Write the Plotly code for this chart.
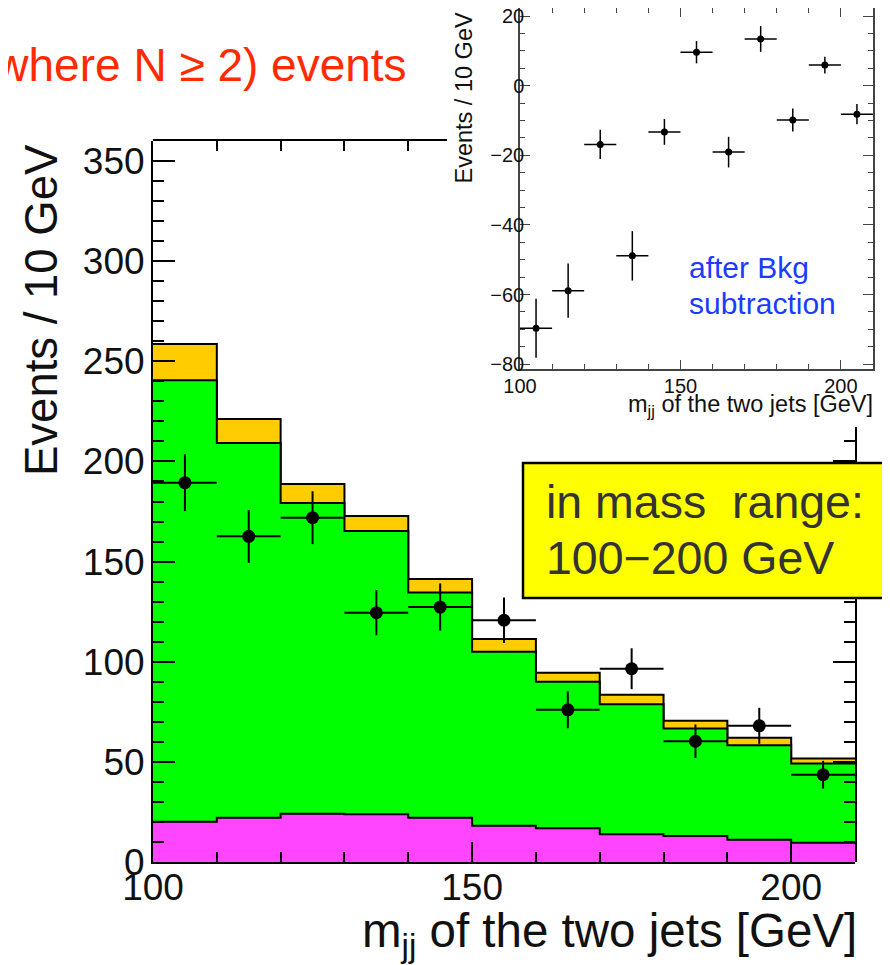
import plotly.graph_objects as go

# ---------------- data ----------------
bin_centers = [105, 115, 125, 135, 145, 155, 165, 175, 185, 195, 205]
bin_half_width = 5

# stacked histogram tops (Events / 10 GeV)
total_top = [258.7, 221.2, 188.7, 172.8, 141.3, 111.3, 94.5, 83.5, 70.5, 62.0, 51.7]
green_top = [240.5, 209.2, 179.3, 165.3, 134.6, 105.0, 90.0, 78.8, 66.7, 58.3, 49.2]
magenta_top = [20.1, 22.1, 24.1, 23.9, 22.1, 18.1, 16.8, 13.8, 13.0, 11.1, 9.6]

# data points (main)
data_vals = [189.4, 162.6, 171.9, 124.5, 127.3, 120.7, 76.0, 96.5, 60.3, 68.0, 43.6]
data_errs = [14.2, 13.2, 13.2, 11.3, 11.8, 11.4, 9.2, 10.2, 8.4, 9.0, 6.9]

# inset: after background subtraction
diff_vals = [-69.7, -58.9, -16.9, -48.9, -13.3, 9.6, -19.1, 13.4, -9.9, 5.9, -8.2]
diff_errs = [8.5, 7.8, 4.2, 7.1, 3.7, 3.2, 4.4, 3.7, 3.3, 2.4, 2.9]

main_x_ticks = [100, 150, 200]
main_y_ticks = [0, 50, 100, 150, 200, 250, 300, 350]
inset_y_ticks = [-80, -60, -40, -20, 0, 20]

# ---------------- layout helpers ----------------
W, H = 890, 965
OFF = 8  # page body margin
def clamp(v):
    return min(1.0, max(0.0, v))
def fx(p):
    return (p - OFF) / W
def fy(p):
    return 1 - (p - OFF) / H

FONT = "Liberation Sans, Arial, Helvetica, sans-serif"

# main plot pixel box (window pixels)
MX0, MX1, MY0, MY1 = 153, 855, 141, 862
XR = [100, 210]
YR = [0, 360]
xscale = (MX1 - MX0) / (XR[1] - XR[0])
yscale = (MY1 - MY0) / (YR[1] - YR[0])

# inset pixel box
IX0, IX1, IY0, IY1 = 520, 873, 8, 369
IYR = [-81.4, 22.3]

edges = [c - bin_half_width for c in bin_centers] + [bin_centers[-1] + bin_half_width]

def step_y(vals):
    return list(vals) + [vals[-1]]

fig = go.Figure()

for vals, col in [(total_top, "#ffcc00"), (green_top, "#00ff00"), (magenta_top, "#ff45ff")]:
    fig.add_trace(go.Scatter(
        x=edges, y=step_y(vals), mode="lines", line=dict(shape="hv", color="black", width=2),
        fill="tozeroy", fillcolor=col, showlegend=False, hoverinfo="skip",
        xaxis="x", yaxis="y"))

fig.add_trace(go.Scatter(
    x=bin_centers, y=data_vals, mode="markers",
    marker=dict(color="black", size=13),
    error_x=dict(type="constant", value=bin_half_width, thickness=2, width=0, color="black"),
    error_y=dict(type="data", array=data_errs, thickness=2, width=0, color="black"),
    showlegend=False, xaxis="x", yaxis="y"))

# inset
fig.add_trace(go.Scatter(
    x=bin_centers, y=diff_vals, mode="markers",
    marker=dict(color="black", size=7),
    error_x=dict(type="constant", value=bin_half_width, thickness=1.5, width=0, color="black"),
    error_y=dict(type="data", array=diff_errs, thickness=1.5, width=0, color="black"),
    showlegend=False, xaxis="x2", yaxis="y2"))

# invisible traces to create frame subplots
fig.add_trace(go.Scatter(x=[None], y=[None], xaxis="x3", yaxis="y3", showlegend=False, hoverinfo="skip"))
fig.add_trace(go.Scatter(x=[None], y=[None], xaxis="x4", yaxis="y4", showlegend=False, hoverinfo="skip"))

main_dom_x = [clamp(fx(MX0)), clamp(fx(MX1))]
main_dom_y = [clamp(fy(MY1)), clamp(fy(MY0))]

common_main = dict(showline=True, linecolor="black", linewidth=2, ticks="inside",
                   tickcolor="black", tickwidth=2, showgrid=False, zeroline=False, automargin=False)

top_end = 447
right_top = 427

fig.update_layout(
    width=W, height=H, margin=dict(l=0, r=0, t=0, b=0, pad=0, autoexpand=False),
    paper_bgcolor="white", plot_bgcolor="rgba(0,0,0,0)", showlegend=False,
    xaxis=dict(domain=main_dom_x, range=XR, anchor="y", tickvals=main_x_ticks, ticklen=20,
               minor=dict(dtick=10, tick0=100, ticklen=10, ticks="inside", tickcolor="black", tickwidth=2),
               tickfont=dict(family=FONT, size=37, color="#111111"), ticklabelstandoff=-8,
               **common_main),
    yaxis=dict(domain=main_dom_y, range=YR, anchor="x", tickvals=main_y_ticks, ticklen=22,
               minor=dict(dtick=10, tick0=0, ticklen=11, ticks="inside", tickcolor="black", tickwidth=2),
               tickfont=dict(family=FONT, size=37, color="#111111"), ticklabelstandoff=-1,
               **common_main),
    xaxis3=dict(domain=[clamp(fx(MX0)), clamp(fx(top_end))], range=[XR[0], XR[0] + (top_end - MX0) / xscale],
                anchor="y3", side="top", tickvals=main_x_ticks, ticklen=20, showticklabels=False,
                minor=dict(dtick=10, tick0=100, ticklen=10, ticks="inside", tickcolor="black", tickwidth=2),
                **common_main),
    yaxis3=dict(domain=main_dom_y, range=YR, anchor="x3", visible=False, automargin=False),
    xaxis4=dict(domain=main_dom_x, range=XR, anchor="y4", visible=False, automargin=False),
    yaxis4=dict(domain=[clamp(fy(MY1)), clamp(fy(right_top))], range=[0, (MY1 - right_top) / yscale],
                anchor="x4", side="right", tickvals=main_y_ticks, ticklen=22, showticklabels=False,
                minor=dict(dtick=10, tick0=0, ticklen=11, ticks="inside", tickcolor="black", tickwidth=2),
                **common_main),
    xaxis2=dict(domain=[clamp(fx(IX0)), clamp(fx(IX1))], range=XR, anchor="y2", tickvals=main_x_ticks,
                showline=True, linecolor="#444444", linewidth=1.5, mirror="ticks",
                ticks="inside", ticklen=9, tickcolor="#444444", tickwidth=1.2,
                minor=dict(dtick=10, tick0=100, ticklen=5, ticks="inside", tickcolor="#444444", tickwidth=1.2),
                tickfont=dict(family=FONT, size=20, color="#111111"), ticklabelstandoff=-2,
                ticklabeloverflow="allow",
                showgrid=False, zeroline=False, automargin=False),
    yaxis2=dict(domain=[clamp(fy(IY1)), clamp(fy(IY0))], range=IYR, anchor="x2", tickvals=inset_y_ticks,
                showline=True, linecolor="#444444", linewidth=1.5, mirror="ticks",
                ticks="inside", ticklen=10, tickcolor="#444444", tickwidth=1.2,
                minor=dict(dtick=5, tick0=0, ticklen=5, ticks="inside", tickcolor="#444444", tickwidth=1.2),
                tickfont=dict(family=FONT, size=20, color="#111111"), ticklabelstandoff=-10,
                ticklabeloverflow="allow",
                showgrid=False, zeroline=False, automargin=False),
)

fig.add_shape(type="rect", xref="paper", yref="paper", x0=fx(523), x1=fx(884), y0=fy(598), y1=fy(463),
              fillcolor="#ffff00", line=dict(color="black", width=2.5), layer="above")

def ann(text, x, y, size, color, xanchor="center", yanchor="middle", angle=0):
    fig.add_annotation(text=text, xref="paper", yref="paper", x=x, y=y, showarrow=False,
                       xanchor=xanchor, yanchor=yanchor, textangle=angle,
                       font=dict(family=FONT, size=size, color=color))

ann("(where N \u2265 2) events", fx(409), fy(65), 46, "#ff2a00", xanchor="right")
ann("Events / 10 GeV", fx(41), fy(142), 45.5, "#111111", yanchor="top", angle=-90)
ann("m<sub>jj</sub> of the two jets [GeV]", fx(859), fy(934), 47.5, "#111111", xanchor="right")
ann("Events / 10 GeV", fx(463), fy(11), 23.5, "#111111", yanchor="top", angle=-90)
ann("m<sub>jj</sub> of the two jets [GeV]", fx(875), fy(405), 23.5, "#111111", xanchor="right")
ann("after Bkg", fx(687), fy(267), 30, "#1a3cff", xanchor="left")
ann("subtraction", fx(687), fy(303), 30, "#1a3cff", xanchor="left")
ann("in mass  range:", fx(544), fy(502), 46.5, "#333333", xanchor="left")
ann("100\u2212200 GeV", fx(544), fy(558), 46.5, "#333333", xanchor="left")

fig.write_html("out.html")
